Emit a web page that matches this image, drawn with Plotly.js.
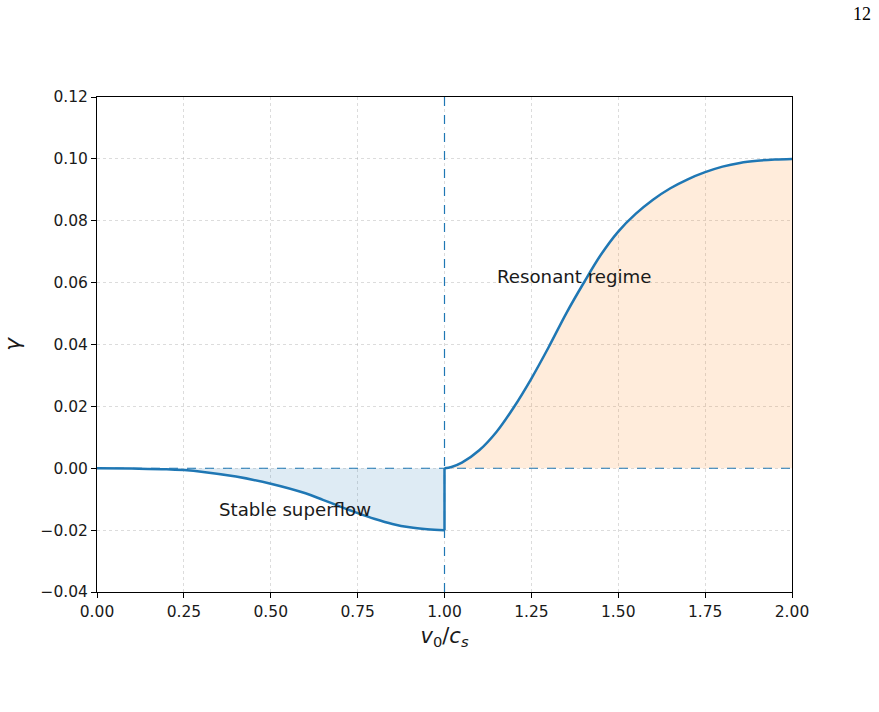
<!DOCTYPE html>
<html>
<head>
<meta charset="utf-8">
<script src="https://cdn.plot.ly/plotly-3.0.1.min.js"></script>
<style>html,body{margin:0;padding:0;background:#fff;}#chart{width:879px;height:712px;}</style>
</head>
<body>
<div id="chart"></div>
<script>
// Stable (subsonic) branch
const vLeft = [0, 0.1, 0.2, 0.25, 0.3, 0.4, 0.5, 0.6, 0.65, 0.7, 0.75, 0.8, 0.85, 0.9, 0.95, 1.0];
const gLeft = [0, -0.0001, -0.0003, -0.0006, -0.0011, -0.0027, -0.005, -0.0081, -0.0102, -0.0124, -0.0145, -0.0164, -0.018, -0.0191, -0.0197, -0.02];
// Resonant (supersonic) branch
const vRight = [1.0, 1.02, 1.05, 1.1, 1.15, 1.2, 1.25, 1.3, 1.35, 1.4, 1.45, 1.5, 1.55, 1.6, 1.65, 1.7, 1.75, 1.8, 1.85, 1.9, 1.95, 2.0];
const gRight = [0, 0.0004, 0.0018, 0.0058, 0.0118, 0.0198, 0.029, 0.0392, 0.05, 0.0598, 0.069, 0.0765, 0.0822, 0.0868, 0.0905, 0.0934, 0.0957, 0.0975, 0.0987, 0.0994, 0.0998, 0.1];

const xTicks = [0, 0.25, 0.5, 0.75, 1.0, 1.25, 1.5, 1.75, 2.0];
const xTickText = ['0.00', '0.25', '0.50', '0.75', '1.00', '1.25', '1.50', '1.75', '2.00'];
const yTicks = [-0.04, -0.02, 0, 0.02, 0.04, 0.06, 0.08, 0.10, 0.12];
const yTickText = ['\u22120.04', '\u22120.02', '0.00', '0.02', '0.04', '0.06', '0.08', '0.10', '0.12'];

const blue = '#1f77b4';
const font = 'DejaVu Sans, sans-serif';
const smooth = {shape: 'spline', smoothing: 1};

const traces = [
  {x: vLeft, y: gLeft, type: 'scatter', mode: 'none', fill: 'tozeroy', line: smooth,
   fillcolor: 'rgba(31,119,180,0.15)', hoverinfo: 'skip', showlegend: false},
  {x: vRight, y: gRight, type: 'scatter', mode: 'none', fill: 'tozeroy', line: smooth,
   fillcolor: 'rgba(255,127,14,0.15)', hoverinfo: 'skip', showlegend: false},
  {x: vLeft, y: gLeft, type: 'scatter', mode: 'lines',
   line: {color: blue, width: 2.5, shape: 'spline', smoothing: 1}, showlegend: false},
  {x: [vLeft[vLeft.length - 1], vRight[0]], y: [gLeft[gLeft.length - 1], gRight[0]], type: 'scatter', mode: 'lines',
   line: {color: blue, width: 2.5}, showlegend: false},
  {x: vRight, y: gRight, type: 'scatter', mode: 'lines',
   line: {color: blue, width: 2.5, shape: 'spline', smoothing: 1}, showlegend: false}
];

const axisCommon = {
  showline: true, linecolor: '#000', linewidth: 1, mirror: true,
  ticks: 'outside', ticklen: 5, tickcolor: '#000', tickwidth: 1,
  showgrid: true, gridcolor: 'rgba(176,176,176,0.55)', griddash: 'dot', gridwidth: 0.8,
  zeroline: false, tickfont: {family: font, size: 15.5, color: '#1a1a1a'}
};

const layout = {
  width: 879, height: 712,
  margin: {l: 97, r: 87, t: 97, b: 120},
  paper_bgcolor: '#fff', plot_bgcolor: '#fff',
  font: {family: font, size: 15, color: '#1a1a1a'},
  showlegend: false,
  xaxis: Object.assign({}, axisCommon, {
    range: [0, 2], tickvals: xTicks, ticktext: xTickText,
    title: {text: '<i>v</i><sub>0</sub>/<i>c</i><sub><i>s</i></sub>', font: {family: font, size: 21, color: '#1a1a1a'}, standoff: 8}
  }),
  yaxis: Object.assign({}, axisCommon, {
    range: [-0.04, 0.12], tickvals: yTicks, ticktext: yTickText,
    title: {text: '<i>γ</i>', font: {family: font, size: 22, color: '#1a1a1a'}, standoff: 18}
  }),
  shapes: [
    {type: 'line', xref: 'x', yref: 'y', x0: 0, x1: 2, y0: 0, y1: 0,
     line: {color: blue, width: 1.2, dash: 'dash'}},
    {type: 'line', xref: 'x', yref: 'paper', x0: 1, x1: 1, y0: 0, y1: 1,
     line: {color: blue, width: 1.2, dash: 'dash'}}
  ],
  annotations: [
    {x: 0.345, y: -0.0133, xref: 'x', yref: 'y', text: 'Stable superflow', showarrow: false,
     xanchor: 'left', yanchor: 'middle', font: {family: font, size: 18.2, color: '#1a1a1a'}},
    {x: 1.145, y: 0.062, xref: 'x', yref: 'y', text: 'Resonant regime', showarrow: false,
     xanchor: 'left', yanchor: 'middle', font: {family: font, size: 18.2, color: '#1a1a1a'}},
    {x: (862 - 97) / (879 - 97 - 87), y: 1 + (97 - 14) / (712 - 97 - 120),
     xref: 'paper', yref: 'paper', text: '12', showarrow: false, xanchor: 'center', yanchor: 'middle',
     font: {family: 'Liberation Serif, DejaVu Serif, serif', size: 18, color: '#000'}}
  ]
};

Plotly.newPlot('chart', traces, layout, {displayModeBar: false, staticPlot: true});
</script>
</body>
</html>
